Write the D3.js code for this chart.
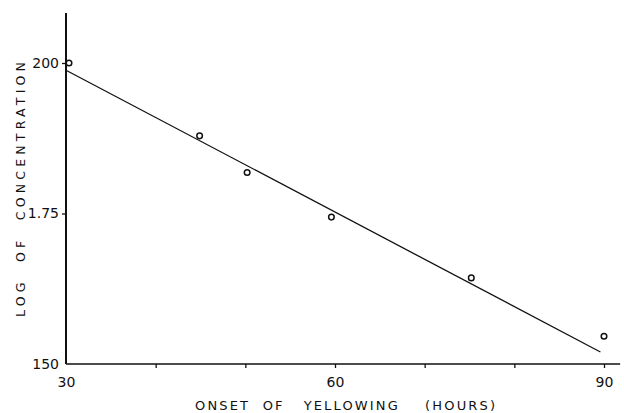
<!DOCTYPE html>
<html><head><meta charset="utf-8">
<script src="https://cdn.jsdelivr.net/npm/d3@7"></script>
<style>body{margin:0;background:#fff}svg{display:block}text{font-family:"DejaVu Sans",sans-serif;fill:#111;white-space:pre}</style>
</head><body><svg id="c" width="624" height="413"></svg>
<script>
const hours = [30, 44.9, 50.2, 59.6, 75.2, 90];
const logConc = [2.00, 1.879, 1.818, 1.744, 1.643, 1.546];
const fitHours = [30, 89.6];
const fitLog = [1.988, 1.520];
const xTicks = [30, 40, 50, 60, 70, 80, 90];
const xTickLabels = ["30", "", "", "60", "", "", "90"];
const yTicks = [1.50, 1.75, 2.00];
const yTickLabels = ["150", "1.75", "200"];

const svg = d3.select("#c");
const x = d3.scaleLinear().domain([30, 90]).range([66, 604]);
const y = d3.scaleLinear().domain([1.50, 2.00]).range([364, 63]);

// axes lines
svg.append("line").attr("x1", x(30)).attr("x2", x(91.8)).attr("y1", y(1.5)).attr("y2", y(1.5))
  .attr("stroke", "#111").attr("stroke-width", 1.7);
svg.append("line").attr("x1", x(30)).attr("x2", x(30)).attr("y1", y(1.5)).attr("y2", y(2.083))
  .attr("stroke", "#111").attr("stroke-width", 2);

const xAxis = d3.axisBottom(x).tickValues(xTicks).tickSize(4).tickPadding(9)
  .tickFormat((d, i) => xTickLabels[i]);
const gx = svg.append("g").attr("transform", `translate(0,${y(1.5)})`).call(xAxis);
gx.select(".domain").remove();
gx.selectAll(".tick line").attr("stroke", "#111").attr("stroke-width", 1.3);
gx.selectAll(".tick").filter(d => d === 30).select("line").remove();
gx.selectAll("text").attr("font-size", 14).attr("fill", "#111");

const yAxis = d3.axisLeft(y).tickValues(yTicks).tickSize(4).tickPadding(3)
  .tickFormat((d, i) => yTickLabels[i]);
const gy = svg.append("g").attr("transform", `translate(${x(30)},0)`).call(yAxis);
gy.select(".domain").remove();
gy.selectAll(".tick line").attr("stroke", "#111").attr("stroke-width", 1.3);
gy.selectAll(".tick").filter(d => d === 1.5).select("line").remove();
gy.selectAll("text").attr("font-size", 14).attr("fill", "#111");

// fit line
svg.append("path")
  .datum(fitHours.map((h, i) => [h, fitLog[i]]))
  .attr("d", d3.line().x(d => x(d[0])).y(d => y(d[1])))
  .attr("fill", "none").attr("stroke", "#111").attr("stroke-width", 1.3);

// points
svg.selectAll("circle.pt").data(hours.map((h, i) => [h, logConc[i]])).enter()
  .append("circle").attr("class", "pt")
  .attr("cx", d => x(d[0]) + (d[0] === 30 ? 3 : 0)).attr("cy", d => y(d[1]))
  .attr("r", 2.8).attr("fill", "none").attr("stroke", "#111").attr("stroke-width", 1.5);

// axis titles
svg.append("text").attr("x", 195).attr("y", 410)
  .attr("font-size", 13)
  .attr("textLength", 300).attr("lengthAdjust", "spacing")
  .text("ONSET  OF   YELLOWING    (HOURS)");
svg.append("text").attr("transform", "translate(25,317) rotate(-90)")
  .attr("font-size", 12.5)
  .attr("textLength", 255).attr("lengthAdjust", "spacing")
  .text("LOG  OF  CONCENTRATION");
</script></body></html>
